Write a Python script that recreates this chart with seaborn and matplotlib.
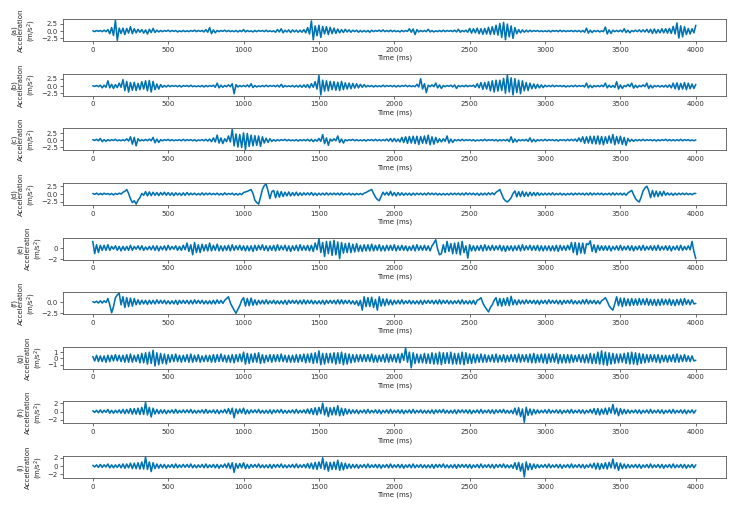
import numpy as np
import pandas as pd
import matplotlib
matplotlib.use("Agg")
import matplotlib.pyplot as plt
import seaborn as sns

# sample times (ms), one reading every 12.5 ms
time_ms = [i * 12.5 for i in range(321)]

# acceleration readings (m/s^2) per panel, 16 values per 200 ms row
acc_a = [0.1, -0.2, 0.2, -0.1, 0.2, -0.2, 0.3, -0.2, 0.5, -0.9, 1.2, -1.5, 3.7, -3.2, 1.0, -0.8,
         1.0, -1.2, 0.9, -0.7, 1.5, -0.9, 0.8, -0.6, 0.6, -0.4, 0.5, -0.7, 0.4, -1.0, 0.6, -0.5,
         0.9, -0.5, 0.3, -0.3, 0.2, -0.2, 0.2, -0.1, 0.3, -0.2, 0.2, -0.1, 0.2, -0.3, 0.1, -0.2,
         0.2, -0.2, 0.1, -0.2, 0.2, -0.1, 0.3, -0.2, 0.2, -0.1, 0.2, -0.3, 0.5, -0.4, 1.2, -0.9,
         0.4, -0.6, 0.2, -0.2, 0.2, -0.1, 0.3, -0.2, 0.2, -0.2, 0.1, -0.2, 0.2, -0.3, 0.2, -0.2,
         0.5, -0.3, 0.2, -0.2, 0.1, -0.3, 0.2, -0.2, 0.2, -0.1, 0.2, -0.2, 0.3, -0.2, 0.1, -0.2,
         0.1, -0.4, 0.5, -0.3, 0.8, -0.6, 0.3, -0.3, 0.4, -0.5, 0.4, -0.3, 0.3, -0.4, 0.3, -0.4,
         0.5, -0.6, 1.2, -1.0, 3.5, -3.0, 1.8, -1.6, 2.0, -2.2, 1.6, -1.0, 1.5, -1.2, 1.3, -0.9,
         1.0, -0.8, 0.7, -0.6, 0.5, -0.5, 0.6, -0.3, 0.4, -0.4, 0.3, -0.2, 0.3, -0.4, 0.2, -0.3,
         0.2, -0.3, 0.2, -0.4, 0.3, -0.2, 0.2, -0.1, 0.3, -0.2, 0.4, -0.2, 0.2, -0.2, 0.3, -0.2,
         0.2, -0.2, 0.1, -0.3, 0.2, -0.2, 0.2, -0.1, 0.8, -0.4, 0.7, -1.2, 0.5, -0.3, 0.2, -0.2,
         0.2, -0.2, 0.6, -0.3, 0.2, -0.3, 0.1, -0.2, 0.2, -0.2, 0.3, -0.2, 0.2, -0.1, 0.2, -0.2,
         0.3, -0.3, 0.6, -0.4, 0.2, -0.2, 0.3, -0.4, 0.9, -0.7, 0.8, -0.6, 1.0, -0.9, 0.8, -1.1,
         0.9, -1.0, 1.3, -1.2, 1.5, -1.1, 2.0, -1.4, 2.6, -2.2, 3.0, -3.0, 2.4, -2.0, 1.8, -2.5,
         1.2, -0.9, 0.5, -0.6, 0.4, -0.4, 0.3, -0.3, 0.3, -0.2, 0.2, -0.1, 0.2, -0.2, 0.1, -0.2,
         0.1, -0.2, 0.2, -0.3, 0.2, -0.1, 0.2, -0.2, 0.3, -0.2, 0.2, -0.2, 0.1, -0.1, 0.2, -0.2,
         0.2, -0.2, 0.2, -0.3, 0.2, -0.4, 1.0, -0.7, 0.3, -0.5, 0.2, -0.2, 0.2, -0.3, 0.1, -0.2,
         1.4, -1.0, 0.4, -0.8, 0.3, -0.2, 0.2, -0.2, 0.3, -0.3, 0.8, -0.5, 0.3, -0.6, 0.2, -0.2,
         0.3, -0.2, 0.4, -0.3, 0.4, -0.3, 0.6, -0.5, 0.6, -0.8, 0.7, -0.7, 0.5, -0.6, 0.8, -0.6,
         0.8, -0.7, 0.9, -0.8, 1.6, -1.0, 2.8, -2.4, 1.8, -2.0, 1.5, -1.2, 0.9, -1.0, 0.8, -0.6,
         2.0]

acc_b = [0.1, -0.1, 0.2, -0.2, 0.3, -0.6, 0.3, -0.4, 1.8, -0.6, 0.6, -0.8, 0.5, -0.5, 1.0, -0.4,
         2.2, -1.5, 1.6, -2.0, 1.2, -1.4, 1.3, -1.5, 0.9, -1.2, 1.5, -1.0, 1.8, -1.6, 1.9, -2.0,
         1.6, -1.2, 0.7, -1.0, 0.5, -0.4, 0.2, -0.3, 0.3, -0.2, 0.2, -0.1, 0.2, -0.2, 0.2, -0.3,
         0.2, -0.1, 0.2, -0.2, 0.3, -0.2, 0.1, -0.2, 0.1, -0.2, 0.2, -0.3, 0.2, -0.2, 0.2, -0.1,
         0.3, -0.4, 1.0, -0.6, 0.3, -0.4, 0.2, -0.2, 0.4, -0.2, 0.8, -2.6, 0.5, -0.3, 0.2, -0.2,
         0.2, -0.2, 0.4, -0.3, 0.8, -0.5, 0.2, -0.3, 0.1, -0.2, 0.2, -0.2, 0.3, -0.2, 0.2, -0.1,
         0.2, -0.2, 0.3, -0.3, 0.6, -0.4, 0.2, -0.2, 0.1, -0.2, 0.2, -0.3, 0.2, -0.3, 0.3, -0.4,
         0.4, -0.4, 0.5, -0.6, 0.8, -0.4, 1.5, -1.0, 3.6, -3.0, 2.0, -1.7, 1.8, -1.6, 1.6, -1.2,
         1.5, -1.4, 1.3, -1.5, 1.6, -1.2, 1.1, -1.0, 1.0, -0.9, 0.9, -0.7, 0.8, -0.6, 0.6, -0.4,
         0.5, -0.3, 0.2, -0.2, 0.2, -0.3, 0.2, -0.2, 0.1, -0.2, 0.3, -0.2, 0.2, -0.1, 0.2, -0.2,
         0.2, -0.3, 0.2, -0.2, 0.2, -0.1, 0.3, -0.2, 0.2, -0.2, 0.1, -0.2, 0.6, -0.3, 2.5, -1.0,
         0.8, -2.2, 0.3, -0.2, 0.4, -0.2, 1.0, -0.6, 0.4, -0.8, 0.2, -0.2, 0.2, -0.1, 0.3, -0.3,
         0.4, -0.8, 0.2, -0.2, 0.2, -0.2, 0.3, -0.2, 0.2, -0.1, 0.3, -0.4, 0.8, -0.6, 1.2, -1.1,
         1.2, -1.0, 1.5, -1.6, 1.8, -2.0, 2.0, -1.7, 2.0, -1.5, 2.6, -2.4, 3.8, -2.0, 2.8, -3.0,
         2.5, -2.2, 2.0, -2.6, 1.8, -1.6, 1.2, -1.5, 1.0, -0.9, 0.7, -0.8, 0.6, -0.6, 0.4, -0.5,
         0.3, -0.2, 0.2, -0.2, 0.3, -0.2, 0.2, -0.1, 0.2, -0.2, 0.2, -0.3, 0.1, -0.2, 0.2, -0.2,
         0.3, -0.2, 0.2, -0.1, 0.2, -0.3, 1.0, -0.6, 0.3, -0.5, 0.2, -0.2, 0.2, -0.2, 0.3, -0.2,
         1.0, -0.6, 0.3, -0.4, 0.2, -0.5, 1.5, -1.0, 0.4, -0.8, 0.2, -0.2, 0.6, -0.2, 1.0, -0.7,
         0.3, -0.5, 0.2, -0.2, 0.4, -0.2, 1.0, -0.8, 0.3, -0.6, 0.2, -0.2, 0.2, -0.3, 0.2, -0.3,
         0.3, -0.4, 0.4, -0.6, 1.0, -0.9, 1.1, -1.2, 0.9, -1.0, 1.2, -1.2, 1.0, -0.9, 0.7, -0.8,
         0.6]

acc_c = [0.2, -0.1, 0.3, -0.2, 0.6, -0.5, 0.2, -0.4, 0.2, -0.2, 0.2, -0.1, 0.3, -0.2, 0.1, -0.2,
         0.2, -0.2, 0.5, -0.3, 1.2, -1.4, 1.0, -2.0, 0.5, -0.3, 0.2, -0.2, 0.3, -0.2, 0.4, -0.2,
         1.0, -0.9, 0.4, -0.8, 0.2, -0.2, 0.2, -0.1, 0.3, -0.2, 0.2, -0.2, 0.1, -0.1, 0.2, -0.2,
         0.3, -0.2, 0.2, -0.1, 0.2, -0.2, 0.2, -0.3, 0.1, -0.1, 0.2, -0.2, 0.3, -0.3, 0.4, -0.5,
         0.8, -0.6, 1.8, -1.0, 0.8, -1.2, 0.5, -0.5, 1.5, -0.6, 3.8, -2.0, 2.2, -2.4, 2.0, -2.6,
         2.6, -3.3, 2.4, -2.2, 1.8, -2.0, 1.6, -1.8, 1.5, -2.2, 1.2, -1.0, 0.7, -0.8, 0.5, -0.4,
         0.2, -0.3, 0.2, -0.2, 0.2, -0.1, 0.3, -0.2, 0.2, -0.2, 0.1, -0.2, 0.2, -0.3, 0.2, -0.2,
         0.2, -0.2, 0.3, -0.3, 0.3, -0.5, 0.2, -0.3, 0.6, -0.4, 2.0, -1.2, 0.8, -1.8, 0.4, -0.3,
         0.5, -0.2, 1.5, -0.8, 0.4, -1.0, 0.2, -0.2, 0.2, -0.1, 0.3, -0.2, 0.2, -0.2, 0.1, -0.2,
         0.2, -0.3, 0.2, -0.1, 0.2, -0.2, 0.3, -0.2, 0.2, -0.2, 0.2, -0.2, 0.4, -0.3, 0.6, -0.5,
         0.6, -0.5, 0.4, -0.6, 1.0, -0.8, 1.2, -1.1, 1.3, -1.0, 1.4, -1.2, 1.4, -1.5, 1.3, -1.1,
         1.5, -1.2, 1.8, -1.6, 1.2, -1.4, 1.0, -0.8, 0.5, -0.6, 0.5, -0.4, 1.5, -1.0, 0.4, -0.8,
         0.2, -0.2, 0.2, -0.2, 0.3, -0.2, 0.2, -0.1, 0.2, -0.2, 0.2, -0.3, 0.1, -0.2, 0.2, -0.2,
         0.3, -0.2, 0.2, -0.1, 0.2, -0.2, 0.2, -0.3, 0.2, -0.2, 0.2, -0.2, 0.3, -0.5, 1.2, -0.8,
         0.4, -0.6, 0.2, -0.2, 0.2, -0.2, 0.3, -0.4, 0.8, -0.6, 0.3, -0.5, 0.2, -0.2, 0.2, -0.2,
         0.3, -0.2, 0.2, -0.1, 0.2, -0.2, 0.2, -0.3, 0.2, -0.1, 0.2, -0.2, 0.3, -0.2, 0.3, -0.2,
         0.4, -0.4, 0.8, -0.5, 1.2, -1.1, 1.2, -1.0, 1.4, -1.2, 1.4, -1.3, 1.5, -1.4, 1.3, -1.6,
         1.2, -1.1, 1.5, -1.0, 2.0, -1.6, 1.3, -1.2, 1.4, -1.5, 1.0, -1.8, 0.6, -0.5, 0.3, -0.4,
         0.2, -0.2, 0.2, -0.2, 0.3, -0.2, 0.2, -0.1, 0.2, -0.2, 0.2, -0.3, 0.2, -0.2, 0.2, -0.1,
         0.3, -0.2, 0.2, -0.2, 0.2, -0.2, 0.2, -0.2, 0.3, -0.2, 0.2, -0.1, 0.2, -0.2, 0.1, -0.2,
         0.1]

acc_d = [0.2, -0.1, 0.3, -0.2, 0.2, -0.2, 0.3, -0.1, 0.2, -0.2, 0.2, -0.3, 0.2, -0.1, 0.3, 0.0,
         0.6, 0.9, 1.5, 0.2, -1.6, -2.8, -2.2, -3.3, -2.0, -1.2, 0.2, -0.4, 0.8, -0.6, 0.7, -0.5,
         0.6, -0.4, 0.5, -0.5, 0.5, -0.3, 0.6, -0.4, 0.5, -0.4, 0.4, -0.5, 0.4, -0.3, 0.3, -0.4,
         0.4, -0.4, 0.5, -0.3, 0.3, -0.2, 0.3, -0.3, 0.2, -0.3, 0.4, -0.3, 0.3, -0.2, 0.3, -0.2,
         0.2, -0.2, 0.3, -0.3, 0.2, -0.3, 0.4, -0.2, 0.2, -0.1, 0.3, -0.3, 0.2, -0.3, 0.2, -0.2,
         0.5, 0.7, 0.9, 1.2, 1.5, 0.2, -2.0, -2.8, -3.3, -1.0, 1.5, 2.8, 3.3, 1.0, -1.5, 0.8,
         1.2, -1.2, 1.0, -1.0, 0.8, -0.8, 0.6, -0.6, 0.7, -0.6, 0.5, -0.5, 0.6, -0.5, 0.4, -0.4,
         0.4, -0.3, 0.4, -0.3, 0.5, -0.4, 0.3, -0.4, 0.3, -0.3, 0.3, -0.3, 0.4, -0.3, 0.3, -0.2,
         0.3, -0.2, 0.3, -0.3, 0.4, -0.3, 0.2, -0.2, 0.3, -0.3, 0.2, -0.3, 0.2, -0.2, 0.2, -0.2,
         0.3, 0.5, 0.9, 1.2, 1.5, 0.2, -1.0, -1.8, -2.2, -0.8, 0.6, -0.3, 0.6, -0.4, 0.9, -0.5,
         0.5, -0.6, 0.5, -0.4, 0.4, -0.4, 0.3, -0.3, 0.3, -0.4, 0.3, -0.3, 0.3, -0.2, 0.3, -0.3,
         0.3, -0.3, 0.4, -0.2, 0.3, -0.2, 0.3, -0.3, 0.2, -0.3, 0.2, -0.3, 0.2, -0.3, 0.3, -0.2,
         0.3, -0.2, 0.3, -0.3, 0.3, -0.3, 0.4, -0.2, 0.3, -0.2, 0.3, -0.3, 0.3, -0.4, 0.3, -0.3,
         0.3, -0.3, 0.4, -0.2, 0.4, -0.2, 0.6, 1.0, 1.5, 0.0, -1.5, -2.2, -2.6, -2.0, -1.2, 0.2,
         1.0, -0.9, 0.8, -0.8, 0.9, -0.8, 0.6, -0.7, 0.6, -0.5, 0.5, -0.5, 0.5, -0.4, 0.3, -0.3,
         0.3, -0.3, 0.3, -0.3, 0.4, -0.3, 0.2, -0.2, 0.3, -0.3, 0.2, -0.3, 0.2, -0.2, 0.3, -0.3,
         0.3, -0.2, 0.3, -0.2, 0.3, -0.3, 0.3, -0.3, 0.4, -0.3, 0.3, -0.2, 0.3, -0.2, 0.3, -0.3,
         0.2, -0.2, 0.3, -0.3, 0.4, -0.3, 0.3, -0.2, 0.3, -0.3, 0.3, -0.4, 0.4, 0.8, 1.2, -0.2,
         -1.5, -2.2, -2.6, -1.0, 1.0, 2.0, 2.6, 1.2, -1.2, 1.2, -0.9, 1.0, -0.8, 0.8, -0.6, 0.9,
         -0.4, 0.4, -0.3, 0.3, -0.4, 0.3, -0.3, 0.3, -0.2, 0.3, -0.2, 0.3, -0.2, 0.2, -0.2, 0.2,
         0.2]

acc_e = [1.2, -1.0, 0.6, -0.8, 0.5, -0.4, 0.5, -0.4, 0.6, -0.4, 0.3, -0.2, 0.4, -0.4, 0.3, -0.5,
         0.3, -0.4, 0.3, -0.4, 0.5, -0.4, 0.3, -0.2, 0.4, -0.3, 0.4, -0.4, 0.2, -0.3, 0.3, -0.3,
         0.4, -0.4, 0.4, -0.5, 0.3, -0.3, 0.4, -0.4, 0.5, -0.3, 0.3, -0.2, 0.4, -0.4, 0.3, -0.4,
         0.5, -0.3, 0.9, -0.6, 0.6, -1.2, 1.0, -0.8, 0.6, -0.8, 0.7, -0.5, 0.6, -0.5, 0.9, -0.5,
         0.5, -0.4, 0.7, -0.5, 0.4, -0.5, 0.4, -0.4, 0.5, -0.5, 0.6, -0.4, 0.4, -0.3, 0.5, -0.4,
         0.4, -0.5, 0.4, -0.5, 0.4, -0.6, 0.5, -0.4, 0.5, -0.3, 0.6, -0.4, 0.4, -0.5, 0.4, -0.4,
         0.5, -0.5, 0.6, -0.4, 0.4, -0.3, 0.5, -0.5, 0.4, -0.6, 0.4, -0.4, 0.5, -0.5, 0.6, -0.4,
         0.4, -0.4, 0.5, -0.5, 0.5, -0.6, 0.9, -0.3, 1.7, -0.8, 1.0, -1.5, 1.2, -1.0, 1.2, -1.3,
         1.4, -1.2, 1.1, -1.9, 1.0, -0.9, 0.8, -0.8, 0.9, -0.8, 0.7, -0.7, 0.8, -0.6, 0.5, -0.6,
         0.6, -0.5, 0.6, -0.5, 0.7, -0.5, 0.5, -0.4, 0.6, -0.5, 0.4, -0.5, 0.5, -0.4, 0.5, -0.4,
         0.6, -0.5, 0.4, -0.4, 0.5, -0.4, 0.4, -0.5, 0.3, -0.4, 0.5, -0.5, 0.6, -0.4, 0.4, -0.4,
         0.5, -0.4, 0.4, -0.5, 0.4, 0.9, 1.5, -0.2, -1.2, -1.0, 0.6, -0.8, 1.2, -0.6, 0.8, -1.0,
         0.9, -1.0, 1.0, -1.2, 1.2, -0.8, 0.4, -1.8, 0.6, -0.5, 0.4, -0.5, 0.4, -0.4, 0.5, -0.5,
         0.6, -0.4, 0.4, -0.4, 0.5, -0.4, 0.4, -0.3, 0.5, -0.5, 0.4, -0.6, 0.4, -0.4, 0.4, -0.5,
         0.4, -0.4, 0.5, -0.5, 0.6, -0.4, 0.4, -0.3, 0.5, -0.4, 0.4, -0.4, 0.5, -0.5, 0.4, -0.5,
         0.4, -0.4, 0.4, -0.5, 0.4, -0.5, 0.5, -0.6, 0.5, -0.4, 0.4, -0.4, 0.5, -0.3, 1.0, -0.8,
         1.0, -1.2, 0.9, -0.9, 0.9, -1.0, 0.8, 0.6, 1.3, -0.6, 0.6, -0.8, 0.5, -0.4, 0.4, -0.4,
         0.4, -0.4, 0.4, -0.5, 0.3, -0.3, 0.4, -0.4, 0.5, -0.4, 0.3, -0.3, 0.4, -0.4, 0.4, -0.5,
         0.3, -0.3, 0.4, -0.4, 0.5, -0.4, 0.3, -0.3, 0.4, -0.4, 0.4, -0.4, 0.5, -0.4, 0.3, -0.3,
         0.4, -0.4, 0.4, -0.5, 0.3, -0.3, 0.4, -0.4, 0.5, -0.4, 0.3, -0.3, 0.4, -0.3, 1.2, -0.6,
         -1.9]

acc_f = [0.1, -0.1, 0.2, -0.2, 0.3, -0.2, 0.3, -0.1, 0.8, -0.6, -2.4, -1.0, 1.0, 1.6, 2.0, -0.6,
         1.2, -1.2, 1.0, -1.0, 0.9, -0.9, 0.8, -0.6, 0.5, -0.5, 0.4, -0.4, 0.4, -0.5, 0.4, -0.4,
         0.4, -0.4, 0.5, -0.3, 0.4, -0.3, 0.4, -0.4, 0.3, -0.4, 0.3, -0.4, 0.4, -0.5, 0.4, -0.3,
         0.4, -0.3, 0.4, -0.4, 0.4, -0.4, 0.5, -0.3, 0.4, -0.3, 0.4, -0.4, 0.3, -0.4, 0.3, -0.4,
         0.4, -0.4, 0.5, -0.3, 0.4, -0.3, 0.4, 0.8, 1.2, -0.2, -1.0, -1.8, -2.5, -1.6, -0.8, 0.4,
         1.0, -0.9, 0.8, -0.8, 0.9, -0.7, 0.5, -0.6, 0.4, -0.4, 0.4, -0.4, 0.5, -0.4, 0.3, -0.3,
         0.4, -0.4, 0.3, -0.4, 0.3, -0.4, 0.4, -0.5, 0.4, -0.3, 0.4, -0.3, 0.4, -0.4, 0.4, -0.4,
         0.5, -0.4, 0.4, -0.3, 0.4, -0.4, 0.3, -0.4, 0.3, -0.4, 0.4, -0.5, 0.4, -0.3, 0.4, -0.3,
         0.4, -0.4, 0.5, -0.4, 0.5, -0.4, 0.4, -0.3, 0.4, -0.4, 0.3, -0.5, 0.3, -0.8, 0.4, -1.8,
         1.2, -1.0, 1.0, -1.0, 1.1, -1.2, 0.6, -1.8, 1.2, -0.9, 0.7, -0.8, 0.7, -0.6, 0.5, -0.6,
         0.4, -0.4, 0.4, -0.4, 0.5, -0.4, 0.3, -0.3, 0.4, -0.4, 0.3, -0.4, 0.3, -0.4, 0.4, -0.5,
         0.4, -0.3, 0.4, -0.3, 0.4, -0.4, 0.4, -0.4, 0.5, -0.4, 0.4, -0.3, 0.4, -0.4, 0.3, -0.4,
         0.3, -0.3, 0.4, -0.4, 0.5, -0.4, 0.3, -0.4, 0.3, -0.4, 0.4, -0.5, 0.4, 0.6, 1.0, -0.2,
         -1.0, -1.6, -2.2, -1.2, -0.6, 0.4, 1.0, -0.8, 0.8, -0.9, 0.8, -0.7, 1.0, -0.8, 1.3, -0.6,
         0.5, -0.6, 0.5, -0.4, 0.4, -0.4, 0.5, -0.3, 0.4, -0.3, 0.4, -0.4, 0.4, -0.5, 0.4, -0.3,
         0.4, -0.4, 0.5, -0.3, 0.4, -0.3, 0.4, -0.4, 0.4, -0.5, 0.4, -0.3, 0.4, -0.3, 0.5, -0.4,
         0.3, -0.4, 0.3, -0.4, 0.5, -0.4, 0.6, -0.4, 0.4, -0.3, 0.4, -0.4, 0.3, -0.4, 0.3, 0.6,
         1.0, 0.2, -0.8, -1.4, -1.8, -0.4, 1.2, -0.8, 0.9, -1.0, 0.9, -0.8, 0.7, -0.8, 0.8, -0.7,
         0.7, -0.7, 0.8, -0.6, 0.7, -0.6, 0.8, -0.7, 0.6, -0.7, 0.6, -0.8, 0.6, -0.7, 0.7, -0.6,
         0.6, -0.6, 0.7, -0.7, 0.5, -0.8, 0.6, -0.6, 0.7, -0.7, 0.8, -0.5, 0.5, -0.6, 0.5, -0.4,
         -0.3]

acc_g = [0.3, -0.4, 0.5, -0.5, 0.4, -0.5, 0.4, -0.6, 0.5, -0.5, 0.5, -0.4, 0.6, -0.4, 0.5, -0.5,
         0.5, -0.6, 0.6, -0.6, 0.7, -0.6, 0.5, -0.5, 0.6, -0.7, 0.8, -0.7, 0.9, -0.9, 1.0, -0.8,
         1.3, -1.2, 0.9, -1.0, 0.8, -0.8, 0.7, -0.9, 0.6, -0.6, 0.6, -0.5, 0.7, -0.5, 0.5, -0.6,
         0.5, -0.5, 0.6, -0.6, 0.7, -0.6, 0.5, -0.5, 0.6, -0.6, 0.4, -0.5, 0.5, -0.5, 0.5, -0.6,
         0.6, -0.6, 0.6, -0.5, 0.7, -0.5, 0.5, -0.6, 0.5, -0.6, 0.6, -0.7, 0.6, -0.5, 0.7, -0.5,
         1.0, -0.9, 0.8, -0.8, 0.7, -0.6, 0.8, -0.6, 0.9, -0.8, 0.6, -0.7, 0.5, -0.5, 0.6, -0.6,
         0.6, -0.5, 0.6, -0.5, 0.7, -0.5, 0.5, -0.6, 0.5, -0.6, 0.5, -0.6, 0.6, -0.6, 0.6, -0.5,
         0.7, -0.7, 0.7, -0.6, 0.8, -0.8, 0.9, -0.7, 1.2, -1.0, 0.8, -0.9, 0.8, -0.7, 0.8, -0.7,
         0.9, -0.9, 0.9, -0.8, 1.0, -1.0, 0.8, -0.9, 0.7, -0.7, 0.6, -0.6, 0.6, -0.5, 0.6, -0.5,
         0.6, -0.5, 0.6, -0.5, 0.7, -0.6, 0.5, -0.6, 0.5, -0.5, 0.6, -0.6, 0.7, -0.6, 0.6, -0.5,
         0.6, -0.6, 0.7, -0.7, 0.8, -0.3, 1.7, -0.6, 1.0, -1.5, 0.9, -0.8, 0.7, -0.7, 0.6, -0.7,
         0.8, -0.8, 0.7, -0.8, 0.9, -0.9, 0.8, -0.9, 1.0, -1.0, 0.9, -0.8, 0.9, -0.8, 1.0, -0.9,
         0.8, -0.9, 0.8, -0.9, 1.0, -1.0, 0.9, -0.8, 0.7, -0.8, 0.7, -0.7, 0.6, -0.6, 0.7, -0.6,
         0.6, -0.6, 0.5, -0.5, 0.6, -0.6, 0.7, -0.6, 0.5, -0.5, 0.6, -0.6, 0.5, -0.5, 0.6, -0.5,
         0.6, -0.6, 0.7, -0.6, 0.6, -0.5, 0.6, -0.6, 0.7, -0.7, 0.8, -0.7, 0.6, -0.6, 0.7, -0.7,
         0.7, -0.8, 0.7, -0.6, 0.7, -0.6, 0.8, -0.8, 0.6, -0.7, 0.6, -0.7, 0.6, -0.7, 0.6, -0.6,
         0.5, -0.5, 0.6, -0.6, 0.6, -0.7, 0.6, -0.7, 0.8, -0.8, 0.7, -0.8, 1.0, -0.9, 1.2, -1.0,
         1.0, -1.1, 0.9, -0.9, 0.8, -0.8, 0.7, -0.7, 0.7, -0.6, 0.8, -0.8, 0.9, -0.9, 1.0, -0.9,
         0.9, -1.0, 0.8, -0.8, 0.7, -0.7, 0.6, -0.6, 0.6, -0.5, 0.6, -0.6, 0.6, -0.7, 0.5, -0.5,
         0.5, -0.6, 0.5, -0.5, 0.6, -0.6, 0.7, -0.6, 0.5, -0.5, 0.6, -0.5, 0.4, -0.5, 0.4, -0.4,
         -0.3]

acc_h = [0.2, -0.2, 0.3, -0.3, 0.4, -0.3, 0.3, -0.2, 0.5, -0.4, 0.3, -0.4, 0.3, -0.3, 0.4, -0.4,
         0.5, -0.5, 0.5, -0.4, 0.7, -0.6, 0.7, -0.6, 0.8, -0.7, 1.0, -0.7, 2.2, -0.8, 1.0, -1.3,
         0.8, -0.6, 0.5, -0.5, 0.4, -0.4, 0.4, -0.5, 0.3, -0.3, 0.4, -0.4, 0.5, -0.4, 0.3, -0.3,
         0.4, -0.3, 0.4, -0.3, 0.5, -0.4, 0.3, -0.4, 0.3, -0.3, 0.4, -0.4, 0.5, -0.4, 0.3, -0.3,
         0.4, -0.4, 0.4, -0.5, 0.3, -0.3, 0.5, -0.4, 0.7, -0.6, 0.8, -1.5, 0.6, -0.5, 0.6, -0.4,
         0.8, -0.6, 0.4, -0.5, 0.4, -0.3, 0.4, -0.3, 0.5, -0.4, 0.3, -0.4, 0.3, -0.4, 0.4, -0.5,
         0.4, -0.3, 0.4, -0.3, 0.5, -0.4, 0.3, -0.4, 0.3, -0.3, 0.4, -0.4, 0.5, -0.4, 0.3, -0.3,
         0.4, -0.4, 0.6, -0.5, 0.7, -0.7, 0.9, -0.8, 1.0, -0.5, 2.0, -0.8, 1.0, -1.2, 0.9, -0.8,
         1.0, -0.8, 1.4, -1.0, 0.8, -0.9, 0.7, -0.6, 0.5, -0.5, 0.4, -0.4, 0.4, -0.5, 0.3, -0.3,
         0.4, -0.4, 0.5, -0.4, 0.3, -0.3, 0.4, -0.4, 0.4, -0.5, 0.3, -0.3, 0.4, -0.4, 0.5, -0.4,
         0.3, -0.3, 0.4, -0.4, 0.4, -0.5, 0.3, -0.3, 0.4, -0.4, 0.5, -0.4, 0.3, -0.3, 0.4, -0.4,
         0.3, -0.4, 0.3, -0.4, 0.4, -0.5, 0.4, -0.3, 0.4, -0.3, 0.5, -0.4, 0.3, -0.4, 0.3, -0.4,
         0.4, -0.5, 0.4, -0.3, 0.4, -0.3, 0.4, -0.4, 0.4, -0.5, 0.3, -0.3, 0.4, -0.4, 0.5, -0.4,
         0.3, -0.3, 0.4, -0.4, 0.4, -0.5, 0.4, -0.3, 0.4, -0.3, 0.5, -0.4, 0.3, -0.4, 0.3, -0.5,
         0.8, -0.8, 0.9, -1.2, 0.6, -2.6, 1.0, -0.9, 0.6, -0.8, 0.5, -0.5, 0.4, -0.4, 0.3, -0.3,
         0.4, -0.4, 0.5, -0.4, 0.3, -0.3, 0.4, -0.4, 0.4, -0.5, 0.3, -0.3, 0.4, -0.4, 0.5, -0.4,
         0.3, -0.3, 0.4, -0.4, 0.4, -0.5, 0.3, -0.3, 0.5, -0.4, 0.7, -0.7, 0.7, -0.8, 0.6, -0.6,
         0.8, -0.7, 0.9, -0.4, 1.7, -0.6, 0.8, -1.0, 0.7, -0.6, 0.5, -0.5, 0.4, -0.4, 0.3, -0.3,
         0.4, -0.4, 0.4, -0.5, 0.3, -0.3, 0.4, -0.4, 0.5, -0.4, 0.3, -0.3, 0.4, -0.4, 0.4, -0.5,
         0.3, -0.3, 0.4, -0.4, 0.5, -0.4, 0.3, -0.3, 0.4, -0.4, 0.4, -0.5, 0.3, -0.3, 0.4, -0.4,
         0.3]

# panel (i) repeats the same trace as (h)
acc_i = list(acc_h)

panel_tags = ["a", "b", "c", "d", "e", "f", "g", "h", "i"]
panel_data = [acc_a, acc_b, acc_c, acc_d, acc_e, acc_f, acc_g, acc_h, acc_i]
panel_yticks = [[-2.5, 0, 2.5], [-2.5, 0, 2.5], [-2.5, 0, 2.5], [-2.5, 0, 2.5],
                [-2, 0], [-2.5, 0], [-1, 0, 1], [-2, 0, 2], [-2, 0, 2]]

for tag, vals in zip(panel_tags, panel_data):
    assert len(vals) == len(time_ms), (tag, len(vals))

sns.set_theme(style="ticks", palette="colorblind")
plt.rcParams["font.family"] = ["DejaVu Sans"]
plt.rcParams["font.size"] = 5
plt.rcParams["axes.edgecolor"] = "#555555"
plt.rcParams["axes.linewidth"] = 0.6
plt.rcParams["xtick.major.size"] = 2
plt.rcParams["ytick.major.size"] = 2
plt.rcParams["xtick.major.width"] = 0.5
plt.rcParams["ytick.major.width"] = 0.5
plt.rcParams["xtick.major.pad"] = 2
plt.rcParams["ytick.major.pad"] = 1.5
plt.rcParams["xtick.labelsize"] = 5
plt.rcParams["ytick.labelsize"] = 5

line_color = sns.color_palette("colorblind")[0]

fig, axes = plt.subplots(9, 1, figsize=(7.37, 5.09), dpi=100)
fig.subplots_adjust(left=0.085, right=0.985, top=0.962, bottom=0.061, hspace=1.48)

for ax, tag, vals, yt in zip(axes, panel_tags, panel_data, panel_yticks):
    df = pd.DataFrame({"Time (ms)": time_ms, "acc": vals})
    sns.lineplot(data=df, x="Time (ms)", y="acc", ax=ax, color=line_color,
                 linewidth=1.15, estimator=None, sort=False)
    ax.set_xticks([0, 500, 1000, 1500, 2000, 2500, 3000, 3500, 4000])
    ax.set_yticks(yt)
    ax.set_xlabel("Time (ms)", fontsize=5, labelpad=1.5)
    ax.set_ylabel(f"({tag})\nAcceleration\n(m/s$^2$)", fontsize=5, labelpad=2)
    ax.tick_params(colors="#333333")

fig.savefig("out.png", dpi=100)
